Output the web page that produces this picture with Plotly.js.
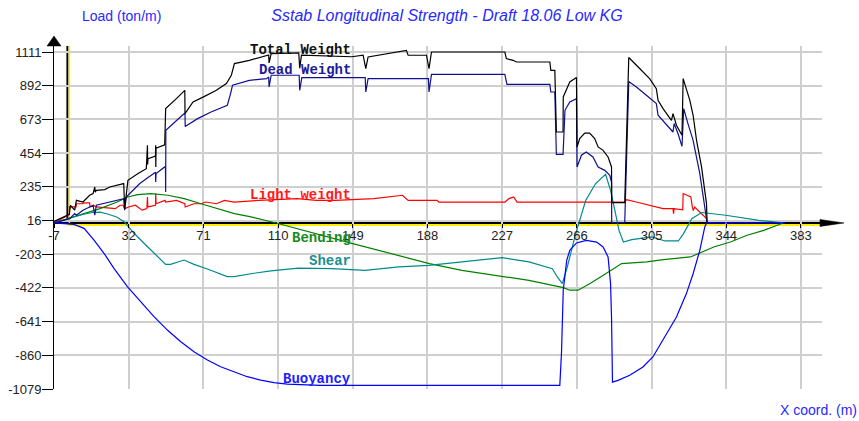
<!DOCTYPE html>
<html>
<head>
<meta charset="utf-8">
<script src="https://cdn.plot.ly/plotly-3.0.1.min.js"></script>
<style>html,body{margin:0;padding:0;background:#fff;}#chart{width:859px;height:421px;}</style>
</head>
<body>
<div id="chart"></div>
<script>
// Tick positions / labels
const xTicks = [-7, 32, 71, 110, 149, 188, 227, 266, 305, 344, 383];
const yTicks = [-1079, -860, -641, -422, -203, 16, 235, 454, 673, 892, 1111];

// Total Weight
const totalX = [-7, 1.0, 1.6, 3.8, 4.7, 8.1, 11.6, 13.4, 14.3, 14.5, 15.1, 19.5, 22.1, 28.2, 29.4, 29.9, 30.7, 31.6, 36.9, 41.2, 41.8, 41.9, 42.1, 46.0, 46.1, 46.15, 46.3, 50.8, 51.3, 56.9, 61.3, 61.4, 65.6, 70.8, 77.8, 83.0, 85.6, 86.5, 87.2, 95.0, 104.0, 105.1, 105.3, 106.4, 120.8, 121.3, 122.2, 148.5, 154.4, 155.8, 157.0, 177.0, 177.9, 187.5, 188.8, 190.1, 228.4, 228.6, 229.2, 232.7, 234.5, 251.9, 252.4, 254.5, 255.3, 258.8, 258.9, 262.3, 265.8, 266.1, 267.5, 270.1, 272.7, 275.3, 277.1, 279.7, 282.3, 284.1, 284.2, 291.0, 293.1, 297.1, 304.0, 307.5, 308.4, 311.0, 315.4, 316.2, 318.0, 320.9, 321.5, 325.0, 326.7, 328.5, 331.1, 333.7, 334.0];
const totalY = [10, 56, 115, 83, 147, 136, 180, 191, 234, 200, 212, 217, 234, 256, 256, 93, 170, 277, 321, 353, 505, 380, 418, 435, 505, 364, 486, 508, 743, 808, 862, 711, 786, 818, 862, 906, 960, 1003, 1036, 1057, 1090, 1092, 1040, 1101, 1105, 1005, 1090, 1080, 1090, 1003, 1079, 1122, 1090, 1090, 1003, 1111, 1111, 1090, 1068, 1057, 1046, 1046, 992, 992, 591, 591, 819, 916, 945, 494, 548, 584, 584, 548, 494, 472, 429, 364, 132, 132, 1075, 1025, 938, 873, 797, 743, 667, 711, 635, 570, 938, 797, 700, 537, 364, 126, 0];

// Dead Weight
const deadX = [-7, 1.2, 3.8, 4.7, 8.1, 13.4, 14.3, 15.1, 29.4, 29.9, 30.7, 34.3, 37.8, 41.2, 46.0, 46.1, 46.3, 50.8, 51.2, 51.3, 51.4, 60.0, 61.4, 61.5, 68.0, 75.0, 82.0, 83.5, 85.2, 86.2, 95.0, 104.0, 105.1, 105.3, 106.4, 121.0, 121.3, 122.4, 155.5, 155.8, 157.0, 188.5, 188.8, 190.1, 228.4, 229.5, 251.9, 252.4, 254.5, 255.3, 258.8, 259.8, 262.3, 265.8, 266.1, 268.4, 270.9, 274.4, 277.1, 280.6, 283.2, 284.1, 284.2, 291.0, 293.1, 297.1, 302.3, 307.5, 308.4, 312.8, 316.2, 316.8, 318.8, 320.9, 321.8, 324.0, 326.7, 330.2, 333.7, 334.0];
const deadY = [0, 28, 61, 50, 83, 115, 50, 115, 158, 83, 169, 212, 256, 288, 330, 266, 321, 364, 364, 201, 602, 700, 714, 627, 678, 721, 754, 765, 841, 895, 927, 938, 949, 884, 960, 960, 862, 945, 945, 851, 938, 938, 851, 966, 966, 901, 901, 851, 851, 446, 446, 732, 786, 808, 364, 440, 461, 429, 364, 342, 310, 266, 0, 0, 920, 884, 830, 776, 700, 635, 591, 646, 581, 498, 743, 646, 537, 321, 28, 0];

// Light weight
const lightX = [-7, 1.0, 1.1, 4.5, 4.7, 8.0, 8.5, 11.6, 11.8, 13.5, 15.0, 25.0, 27.5, 29.0, 29.9, 32.0, 35.5, 39.0, 41.5, 41.8, 42.0, 46.0, 46.1, 46.3, 51.0, 51.3, 57.0, 61.3, 61.5, 66.0, 70.0, 72.0, 77.8, 79.5, 82.0, 87.0, 100.0, 120.0, 130.0, 140.0, 160.0, 175.0, 177.9, 193.0, 194.0, 228.5, 230.5, 233.0, 234.8, 291.0, 292.0, 297.0, 304.0, 311.0, 316.2, 316.5, 316.8, 321.3, 321.5, 325.5, 326.3, 326.8, 327.5, 331.0, 333.7, 334.0];
const lightY = [0, 56, 104, 104, 125, 125, 130, 130, 104, 115, 104, 93, 115, 115, 93, 104, 115, 83, 93, 169, 104, 115, 191, 125, 147, 136, 147, 125, 104, 125, 125, 136, 125, 136, 147, 136, 147, 158, 147, 147, 158, 180, 147, 147, 136, 136, 158, 169, 136, 136, 152, 136, 115, 93, 93, 61, 93, 86, 191, 169, 104, 80, 104, 61, 28, 0];

// Bending
const bendX = [-7, 8, 17, 26, 31.5, 36.7, 43.7, 52.4, 61, 69.8, 78.5, 87.2, 95.9, 109, 149, 189, 206, 224, 241, 259, 262.3, 266.6, 272.9, 279.8, 289.4, 302.5, 311.2, 325.3, 330.5, 337.5, 346.2, 354.9, 363.6, 373.7];
const bendY = [0, 61, 93, 136, 169, 184, 191, 180, 158, 125, 93, 61, 39, 0, -134, -264, -308, -340, -373, -420, -437, -437, -394, -340, -264, -253, -238, -221, -195, -156, -124, -80, -48, 0];

// Shear
const shearX = [-7, 1.2, 8, 13, 17, 21, 25.7, 29.6, 34.8, 40, 45.2, 51.3, 53.9, 60.9, 66.1, 73.1, 83.5, 87, 97.4, 106.2, 120.6, 138.1, 155.5, 173, 188.7, 206.1, 227, 241, 253.2, 255.8, 258.4, 261, 265.4, 270.6, 275.8, 281, 283.6, 286.2, 288, 290.3, 294.7, 305.1, 312.1, 319, 321.7, 326, 331.2, 343.7, 361.1, 373.7];
const shearY = [0, 30, 55, 68, 70, 58, 39, 8, -67, -132, -197, -269, -269, -241, -269, -299, -349, -349, -327, -312, -293, -297, -308, -286, -275, -253, -225, -253, -297, -351, -394, -286, -69, 146, 256, 316, 212, 61, -48, -124, -108, -91, -117, -117, -69, 28, 68, 50, 17, 0];

// Buoyancy
const buoyX = [-7, 3.4, 8.7, 13.9, 19.1, 24.3, 31.3, 38.3, 45.2, 52.2, 59.2, 66.1, 73.1, 80.0, 87.0, 93.9, 100.9, 107.9, 114.8, 125, 132, 257.1, 258, 258.9, 260.7, 262.3, 265.8, 271, 276.3, 279.7, 282.3, 283.6, 284.1, 284.6, 287.5, 293.6, 300.5, 305.7, 311, 318, 323.2, 326.7, 330.2, 332.8, 333.7, 374.7];
const buoyY = [0, -9, -35, -111, -197, -295, -414, -512, -609, -696, -772, -837, -891, -934, -967, -999, -1021, -1038, -1047, -1053, -1055, -1055, -838, -437, -243, -178, -130, -113, -124, -156, -221, -394, -611, -1034, -1023, -990, -936, -871, -762, -611, -459, -330, -178, -26, 0, 0];

const X_MIN = -7, X_MAX = 394, Y_MIN = -1079, Y_MAX = 1150;
const ZERO_FRAC = (0 - Y_MIN) / (Y_MAX - Y_MIN);

function line(name, x, y, color) {
  return {type: 'scatter', mode: 'lines', name: name, x: x, y: y,
          line: {color: color, width: 1.2}, hoverinfo: 'skip'};
}

const traces = [
  line('Light weight', lightX, lightY, '#ff0000'),
  line('Bending', bendX, bendY, '#008000'),
  line('Shear', shearX, shearY, '#008b8b'),
  line('Buoyancy', buoyX, buoyY, '#0000ff'),
  line('Dead Weight', deadX, deadY, '#10108c'),
  line('Total Weight', totalX, totalY, '#000000')
];

const labelFont = {family: 'Liberation Mono, DejaVu Sans Mono, monospace', size: 14, weight: 'bold'};
function lbl(text, y, color) {
  return {text: text, x: 149, y: y, xref: 'x', yref: 'y', xanchor: 'right', yanchor: 'middle',
          showarrow: false, font: Object.assign({}, labelFont, {color: color})};
}

const layout = {
  width: 859, height: 421,
  margin: {l: 54, r: 37, t: 46, b: 32, pad: 0},
  paper_bgcolor: '#ffffff', plot_bgcolor: '#ffffff',
  showlegend: false,
  font: {family: 'Liberation Sans, Arial, sans-serif', size: 13, color: '#222'},
  title: {
    text: '<i>Sstab Longitudinal Strength - Draft 18.06 Low KG</i>',
    x: 447 / 859, xanchor: 'center', xref: 'container',
    y: 1 - 15.5 / 421, yanchor: 'middle', yref: 'container',
    font: {family: 'Liberation Sans, Arial, sans-serif', size: 16, color: '#2828ff'}
  },
  xaxis: {
    range: [X_MIN, X_MAX], tickmode: 'array', tickvals: xTicks, ticktext: xTicks.map(String),
    showgrid: true, gridcolor: '#cfcfcf', gridwidth: 2, zeroline: false, showline: false,
    ticks: 'outside', ticklen: 4, tickcolor: '#000', tickwidth: 1, ticklabelstandoff: -4,
    anchor: 'free', position: ZERO_FRAC,
    tickfont: {size: 13, color: '#222'}, fixedrange: true
  },
  yaxis: {
    range: [Y_MIN, Y_MAX], tickmode: 'array', tickvals: yTicks, ticktext: yTicks.map(String),
    showgrid: true, gridcolor: '#cfcfcf', gridwidth: 2, zeroline: false,
    showline: true, linecolor: '#000', linewidth: 1,
    ticks: 'outside', ticklen: 11, tickcolor: '#000', tickwidth: 1, ticklabelstandoff: -2,
    tickfont: {size: 13, color: '#222'}, fixedrange: true
  },
  shapes: [
    // x axis (black + yellow)
    {type: 'line', layer: 'below', xref: 'x', yref: 'y', x0: X_MIN, x1: X_MAX, y0: 0, y1: 0,
     line: {color: '#000', width: 2}},
    {type: 'line', layer: 'below', xref: 'x', yref: 'y', ysizemode: 'pixel', yanchor: 0,
     x0: 0, x1: X_MAX, y0: -2, y1: -2, line: {color: '#ffee00', width: 2}},
    // vertical line at x=0 (black + yellow)
    {type: 'line', layer: 'below', xref: 'x', yref: 'y', x0: 0, x1: 0, y0: 0, y1: Y_MAX,
     line: {color: '#000', width: 2}},
    {type: 'line', layer: 'below', xref: 'x', yref: 'y', xsizemode: 'pixel', xanchor: 0,
     x0: 2, x1: 2, y0: 0, y1: Y_MAX, line: {color: '#ffee00', width: 1.5}},
    // y axis arrow (outside plot area, paper referenced)
    {type: 'path', layer: 'above', xref: 'paper', yref: 'paper', xsizemode: 'pixel', ysizemode: 'pixel',
     xanchor: 0, yanchor: 1, path: 'M -7 0 L 7 0 L 0 10 Z',
     fillcolor: '#000', line: {color: '#000', width: 0.5}},
    // x axis arrow
    {type: 'path', layer: 'above', xref: 'paper', yref: 'paper', xsizemode: 'pixel', ysizemode: 'pixel',
     xanchor: 1, yanchor: ZERO_FRAC, path: 'M -2 3.5 L 22 0 L -2 -3.5 Z',
     fillcolor: '#000', line: {color: '#000', width: 0.5}}
  ],
  annotations: [
    {text: 'Load (ton/m)', xref: 'paper', yref: 'paper', x: (80 - 54) / 768, y: (389 - 15.5) / 343,
     xanchor: 'left', yanchor: 'middle', showarrow: false,
     font: {family: 'Liberation Sans, Arial, sans-serif', size: 14, color: '#2828ff'}},
    {text: 'X coord. (m)', xref: 'paper', yref: 'paper', x: (859 - 54) / 768, y: (389 - 410.5) / 343,
     xanchor: 'right', yanchor: 'middle', showarrow: false,
     font: {family: 'Liberation Sans, Arial, sans-serif', size: 14, color: '#2828ff'}},
    lbl('Total Weight', 1124, '#111111'),
    lbl('Dead Weight', 994, '#1c1c96'),
    lbl('Light weight', 182, '#ff1a1a'),
    lbl('Bending', -100, '#1a8a1a'),
    lbl('Shear', -247, '#1a8f8f'),
    lbl('Buoyancy', -1016, '#2020ff')
  ]
};

Plotly.newPlot('chart', traces, layout, {staticPlot: true, displayModeBar: false});
</script>
</body>
</html>
